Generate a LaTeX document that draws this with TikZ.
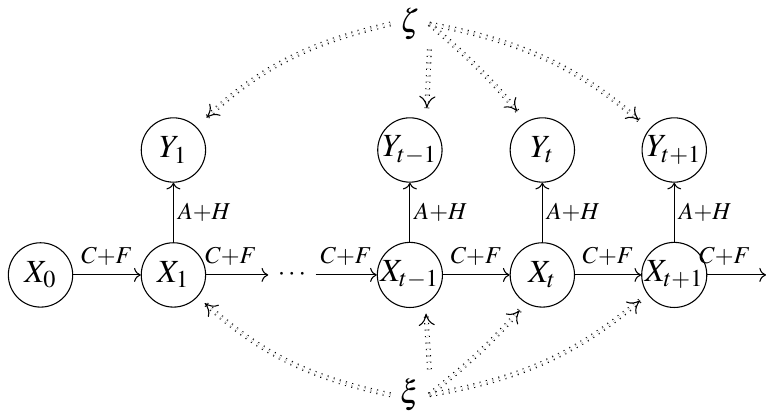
\documentclass[tikz,border=0pt]{standalone}
\usepackage{mathptmx}
\usetikzlibrary{arrows.meta}

\tikzset{
  state/.style={draw, circle, minimum size=0.84cm, inner sep=0pt, font=\large},
  lbl/.style={inner sep=1.5pt, font=\large},
  noise/.style={double, double distance=1pt, dotted, thin},
  noisetip/.style={-{To[length=4.5pt,width=6pt]}, thin, dash pattern=on 0pt off 200pt},
}

\begin{document}
\begin{tikzpicture}[scale=1]
\useasboundingbox (0,0) rectangle (10,5.403);

% draw hidden states
\node[state] (x0) at (0.529,1.814) {$X_0$};
\node[state] (x1) at (2.264,1.814) {$X_1$};
\node (dots) at (3.811,1.814) {$\cdots$};
\node[state] (xtm) at (5.351,1.814) {$X_{t-1}$};
\node[state] (xt) at (7.080,1.814) {$X_t$};
\node[state] (xtp) at (8.802,1.814) {$X_{t+1}$};
\coordinate (xend) at (10,1.814);

% draw observations
\node[state] (y1) at (2.264,3.445) {$Y_1$};
\node[state] (ytm) at (5.351,3.445) {$Y_{t-1}$};
\node[state] (yt) at (7.080,3.445) {$Y_t$};
\node[state] (ytp) at (8.802,3.445) {$Y_{t+1}$};

% draw parameters
\node[font=\large] (zeta) at (5.351,5.09) {$\zeta$};
\node[font=\large] (xi) at (5.351,0.25) {$\xi$};

% transitions
\draw[->] (x0) -- node[above=1.8pt,lbl] {$\scriptstyle C+F$} (x1);
\draw[->] (x1) -- node[above=1.8pt,lbl,pos=0.4] {$\scriptstyle C+F$} (dots);
\draw[->] (dots) -- node[above=1.8pt,lbl] {$\scriptstyle C+F$} (xtm);
\draw[->] (xtm) -- node[above=1.8pt,lbl] {$\scriptstyle C+F$} (xt);
\draw[->] (xt) -- node[above=1.8pt,lbl] {$\scriptstyle C+F$} (xtp);
\draw[->] (xtp) -- node[above=1.8pt,lbl,pos=0.3] {$\scriptstyle C+F$} (xend);

% emissions
\draw[->] (x1) -- node[right,lbl] {$\scriptstyle A+H$} (y1);
\draw[->] (xtm) -- node[right,lbl] {$\scriptstyle A+H$} (ytm);
\draw[->] (xt) -- node[right,lbl] {$\scriptstyle A+H$} (yt);
\draw[->] (xtp) -- node[right,lbl] {$\scriptstyle A+H$} (ytp);

% draw parameter arrows (double dotted line, then its tip)
\foreach \a/\b/\ang/\sh in {zeta.west/y1.45/-15/5pt, zeta.south east/ytm.60/0/5pt,
    zeta.east/yt.120/5/5pt, zeta.east/ytp.140/15/5pt,
    xi.west/x1.-42/15/3.5pt, xi.north east/xtm.-62/0/3.5pt,
    xi.east/xt.-120/-5/3.5pt, xi.east/xtp.-144/-15/3.5pt}
{
  \draw[noise, shorten >=\sh] (\a) to[bend left=\ang] (\b);
  \draw[noisetip, shorten >=\sh] (\a) to[bend left=\ang] (\b);
}

\end{tikzpicture}
\end{document}
